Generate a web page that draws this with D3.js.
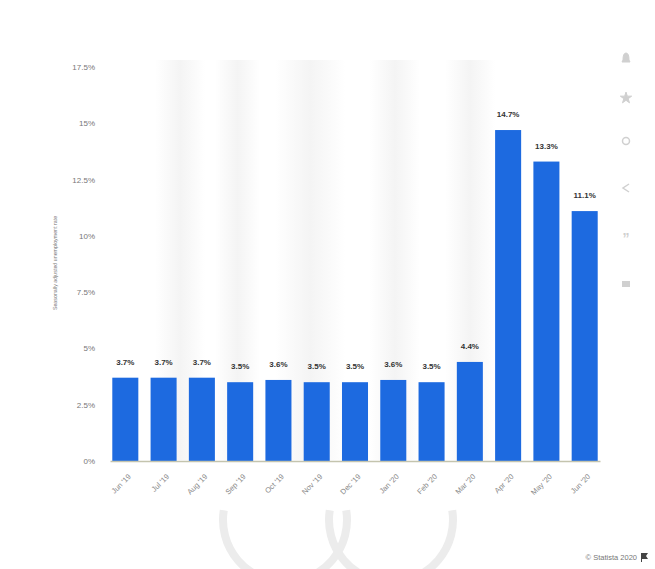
<!DOCTYPE html>
<html>
<head>
<meta charset="utf-8">
<script src="https://cdn.jsdelivr.net/npm/d3@7"></script>
<style>
  body { margin: 0; background: #fff; }
  svg { display: block; font-family: "Liberation Sans", Arial, sans-serif; }
</style>
</head>
<body>
<svg id="chart" width="655" height="569"></svg>
<script>
// Unemployment rate, monthly, Jun 2019 - Jun 2020
const months = ["Jun '19", "Jul '19", "Aug '19", "Sep '19", "Oct '19", "Nov '19", "Dec '19",
  "Jan '20", "Feb '20", "Mar '20", "Apr '20", "May '20", "Jun '20"];
const rates = [3.7, 3.7, 3.7, 3.5, 3.6, 3.5, 3.5, 3.6, 3.5, 4.4, 14.7, 13.3, 11.1];
const yTicks = [0, 2.5, 5, 7.5, 10, 12.5, 15, 17.5];

const data = months.map((m, i) => ({ month: m, rate: rates[i] }));

const svg = d3.select('#chart');

// faint watermark stripes in the background
const defs = svg.append('defs');
const grad = defs.append('linearGradient').attr('id', 'stripe');
grad.append('stop').attr('offset', '0%').attr('stop-color', '#f4f4f4').attr('stop-opacity', 0);
grad.append('stop').attr('offset', '50%').attr('stop-color', '#f4f4f4').attr('stop-opacity', 1);
grad.append('stop').attr('offset', '100%').attr('stop-color', '#f4f4f4').attr('stop-opacity', 0);
[[155, 50], [215, 45], [275, 70], [370, 50], [445, 50]].forEach(([x, w]) => {
  svg.append('rect').attr('x', x).attr('y', 60).attr('width', w).attr('height', 400)
    .attr('fill', 'url(#stripe)');
});

// watermark: lower halves of two overlapping rings
const arc = d3.arc();
const wm = svg.append('g').attr('fill', 'none').attr('stroke', '#ececec').attr('stroke-width', 8);
[285, 391].forEach(cx => {
  wm.append('path')
    .attr('d', arc({ innerRadius: 62, outerRadius: 62, startAngle: Math.PI * 0.45, endAngle: Math.PI * 1.55 }))
    .attr('transform', `translate(${cx},520)`);
});

const x = d3.scaleBand()
  .domain(months)
  .range([110, 600])
  .paddingInner(0.32)
  .paddingOuter(0.06);

const y = d3.scaleLinear()
  .domain([0, 17.5])
  .range([461, 67]);

// y axis labels
const yAxis = svg.append('g')
  .attr('transform', 'translate(98,0)')
  .call(d3.axisLeft(y).tickValues(yTicks).tickSize(0)
    .tickFormat(d => d3.format('.1~f')(d) + '%'));
yAxis.select('.domain').remove();
yAxis.selectAll('text').attr('fill', '#777').attr('font-size', 8);

// bars
svg.append('g').selectAll('rect')
  .data(data)
  .join('rect')
  .attr('x', d => x(d.month))
  .attr('y', d => y(d.rate))
  .attr('width', x.bandwidth())
  .attr('height', d => y(0) - y(d.rate))
  .attr('fill', '#1d6ae0');

// value labels
svg.append('g').selectAll('text')
  .data(data)
  .join('text')
  .attr('x', d => x(d.month) + x.bandwidth() / 2)
  .attr('y', d => y(d.rate) - 13)
  .attr('text-anchor', 'middle')
  .attr('font-size', 8)
  .attr('font-weight', 'bold')
  .attr('fill', '#333')
  .text(d => d3.format('.1f')(d.rate) + '%');

// x axis
const xAxis = svg.append('g')
  .attr('transform', `translate(0,${y(0)})`)
  .call(d3.axisBottom(x).tickSize(0).tickSizeOuter(0));
xAxis.select('.domain').attr('stroke', '#c4c4ae').attr('stroke-width', 1.5);
xAxis.selectAll('text')
  .attr('fill', '#888')
  .attr('font-size', 7.5)
  .attr('text-anchor', 'end')
  .attr('dy', 0)
  .attr('transform', 'translate(4,14) rotate(-45)');

// y axis title
svg.append('text')
  .attr('transform', 'translate(57,263) rotate(-90)')
  .attr('text-anchor', 'middle')
  .attr('font-size', 5.3)
  .attr('fill', '#777')
  .text('Seasonally adjusted unemployment rate');

// side icons (light grey)
const icons = svg.append('g').attr('fill', '#d0d0d0').attr('stroke', '#d0d0d0');
icons.append('path').attr('d', 'M623,60 q0,-7 3,-7 q3,0 3,7 l1,2 h-8 z');
icons.append('path').attr('d', d3.symbol(d3.symbolStar, 40)()).attr('transform', 'translate(626,98)');
icons.append('circle').attr('cx', 626).attr('cy', 141).attr('r', 3.5).attr('fill', 'none').attr('stroke-width', 1.5);
icons.append('path').attr('d', 'M629,184 L623,188 L629,192').attr('fill', 'none').attr('stroke-width', 1.5);
icons.append('text').attr('x', 626).attr('y', 243).attr('text-anchor', 'middle').attr('font-size', 14)
  .attr('stroke', 'none').attr('font-weight', 'bold').text('\u201D');
icons.append('rect').attr('x', 622).attr('y', 281).attr('width', 8).attr('height', 6).attr('stroke', 'none');

// source credit
svg.append('text')
  .attr('x', 637).attr('y', 560)
  .attr('text-anchor', 'end')
  .attr('font-size', 7.5)
  .attr('fill', '#777')
  .text('\u00A9 Statista 2020');
svg.append('path').attr('d', 'M641,553 h7 l-2,3 l2,3 h-6 v3 h-1 z').attr('fill', '#444');
</script>
</body>
</html>
